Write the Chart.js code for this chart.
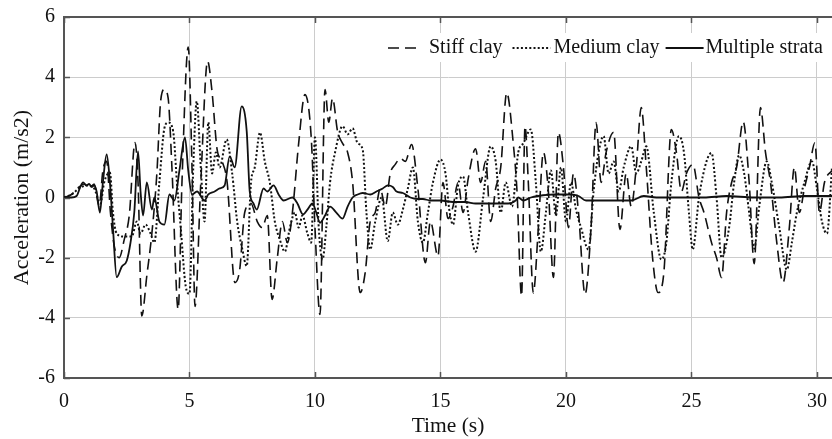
<!DOCTYPE html>
<html>
<head>
<meta charset="utf-8">
<title>Acceleration time history</title>
<script src="https://cdn.jsdelivr.net/npm/chart.js@4.4.1/dist/chart.umd.min.js"></script>
<style>
  html, body { margin: 0; padding: 0; background: #fff; }
  #wrap { width: 832px; height: 439px; }
</style>
</head>
<body>
<div id="wrap"><canvas id="chart"></canvas></div>
<script>
// values (time in s, acceleration in m/s2)
const seriesNames = ['Stiff clay', 'Medium clay', 'Multiple strata'];
const xTicks = [0, 5, 10, 15, 20, 25, 30];
const yTicks = [-6, -4, -2, 0, 2, 4, 6];

const stiffT = [0, 0.3, 0.6, 0.8, 1.0, 1.2, 1.4, 1.55, 1.7, 1.85, 2.0, 2.2, 2.4, 2.6, 2.83, 2.95, 3.1, 3.3, 3.5, 3.7, 3.85, 4.0, 4.15, 4.3, 4.55, 4.7, 4.95, 5.1, 5.22, 5.45, 5.72, 5.9, 6.1, 6.3, 6.5, 6.81, 7.0, 7.2, 7.45, 7.7, 7.9, 8.1, 8.29, 8.5, 8.7, 8.9, 9.1, 9.35, 9.6, 9.85, 10.0, 10.2, 10.4, 10.55, 10.7, 10.9, 11.1, 11.3, 11.5, 11.8, 12.0, 12.2, 12.4, 12.6, 12.8, 13.0, 13.2, 13.4, 13.6, 13.85, 14.1, 14.4, 14.6, 14.9, 15.1, 15.3, 15.5, 15.7, 15.9, 16.1, 16.4, 16.6, 16.8, 17.0, 17.2, 17.4, 17.64, 17.9, 18.05, 18.23, 18.37, 18.5, 18.7, 18.9, 19.1, 19.3, 19.5, 19.7, 19.9, 20.1, 20.3, 20.5, 20.76, 21.0, 21.2, 21.4, 21.6, 21.9, 22.15, 22.4, 22.6, 22.8, 23.0, 23.2, 23.45, 23.67, 23.9, 24.2, 24.4, 24.6, 24.8, 25.06, 25.3, 25.5, 25.8, 26.0, 26.2, 26.4, 26.6, 26.8, 27.06, 27.3, 27.5, 27.75, 27.95, 28.15, 28.4, 28.65, 28.9, 29.1, 29.3, 29.5, 29.7, 29.92, 30.1, 30.3, 30.6];
const stiffA = [0, 0.1, 0.35, 0.45, 0.3, 0.45, -0.3, 0.9, 1.2, -0.5, -1.6, -2.0, -1.4, -0.6, 1.83, 0.5, -3.94, -2.6, -1.2, 0.8, 3.2, 3.59, 3.3, 1.0, -3.72, 0.5, 5.0, 1.0, -3.62, 0.5, 4.53, 3.5, 1.6, 1.2, 0.5, -2.83, -2.4, -0.5, -0.2, -0.8, -1.0, -0.6, -3.39, -2.0, -0.8, -1.5, -0.5, 1.8, 3.42, 2.0, -1.0, -3.89, 3.59, 2.5, 3.3, 2.2, 1.8, 1.5, 0.5, -3.16, -2.5, -0.8, -0.5, 0.3, -0.3, 0.8, 1.1, 1.3, 1.2, 1.76, 0.3, -2.17, -0.8, -1.95, 0.5, -0.7, -0.3, 0.5, -0.5, 0.6, 1.62, 0.5, 1.2, -0.8, 0.3, 1.0, 3.48, 1.8, 0.2, -3.28, 2.37, 0.5, -3.17, -1.0, 1.5, 0.2, -2.66, 2.16, 1.0, -1.0, 0.8, -0.5, -3.22, -1.0, 2.49, 0.5, 1.5, 2.17, -1.06, 0.8, -0.3, 1.0, 2.99, 1.0, -2.0, -3.16, -2.5, 2.26, 1.5, 0.2, 0.8, 1.1, 0.0, -0.5, -1.5, -2.0, -2.66, -0.5, 0.5, 1.0, 2.52, 0.5, -2.2, 2.99, 1.5, 0.5, -1.5, -2.83, -1.0, 1.0, -0.5, 0.3, 1.0, 1.82, -0.5, 0.5, 0.9];

const mediumT = [0, 0.3, 0.6, 0.9, 1.2, 1.45, 1.6, 1.83, 1.95, 2.1, 2.4, 2.7, 2.9, 3.05, 3.25, 3.45, 3.6, 3.8, 4.0, 4.15, 4.35, 4.5, 4.65, 4.85, 5.0, 5.15, 5.29, 5.45, 5.6, 5.75, 5.9, 6.05, 6.2, 6.48, 6.7, 6.9, 7.1, 7.28, 7.45, 7.6, 7.81, 8.0, 8.2, 8.4, 8.6, 8.8, 9.0, 9.2, 9.35, 9.5, 9.7, 9.85, 10.0, 10.15, 10.3, 10.45, 10.6, 10.8, 11.1, 11.3, 11.5, 11.7, 11.9, 12.05, 12.2, 12.4, 12.66, 12.9, 13.1, 13.3, 13.5, 13.7, 13.9, 14.1, 14.3, 14.5, 14.7, 15.0, 15.2, 15.35, 15.5, 15.7, 15.9, 16.1, 16.4, 16.7, 17.0, 17.2, 17.4, 17.6, 17.85, 18.1, 18.3, 18.6, 18.8, 19.0, 19.2, 19.4, 19.6, 19.8, 20.0, 20.2, 20.4, 20.6, 20.9, 21.1, 21.3, 21.5, 21.7, 21.9, 22.1, 22.3, 22.6, 22.8, 23.0, 23.2, 23.5, 23.8, 24.0, 24.2, 24.5, 24.7, 24.9, 25.05, 25.3, 25.6, 25.8, 26.0, 26.2, 26.5, 26.7, 26.9, 27.1, 27.3, 27.5, 27.7, 28.0, 28.2, 28.5, 28.8, 29.0, 29.2, 29.5, 29.8, 30.0, 30.2, 30.4, 30.6];
const mediumA = [0, 0.1, 0.3, 0.4, 0.3, -0.2, 0.5, 0.83, -0.5, -1.2, -1.3, -1.3, -0.8, -1.2, -0.9, -1.2, -1.5, 0.5, 2.3, 2.49, 2.2, 0.5, -1.0, -2.95, -3.2, 1.0, 3.2, 1.0, -0.8, 2.5, 0.8, 1.5, 1.0, 1.93, 0.8, -0.8, -1.7, -2.28, 0.5, 1.0, 2.16, 1.2, 0.5, -0.8, -1.4, -1.8, -1.0, -0.5, -1.0, -0.6, -1.2, -1.5, 2.0, -1.0, -2.06, -1.0, 0.5, 1.5, 2.37, 2.1, 2.3, 1.8, 1.6, -0.5, -1.73, -0.8, 0.0, -1.45, -0.5, -0.9, -0.4, 0.3, 1.0, -0.8, -1.5, -0.5, 0.5, 1.26, 0.8, -0.4, -0.9, 0.4, 0.7, -0.5, -1.8, 0.0, 1.7, 1.2, -0.5, 0.5, -0.3, 1.5, 1.8, 2.26, 0.5, -1.8, -0.5, 0.9, -0.6, 1.0, -0.8, 0.5, -0.4, -1.0, -1.73, 0.2, 1.5, 2.04, 0.8, 1.2, 0.2, 1.0, 1.7, 0.8, 1.2, 1.7, -0.5, -2.06, -1.5, 0.5, 2.04, 1.5, -0.5, -1.73, 0.0, 1.2, 1.48, 0.0, -2.0, -1.0, 0.5, 1.4, 0.8, -0.5, -1.7, -0.3, 1.2, 0.5, -1.0, -2.4, -1.5, -0.5, 0.5, 1.2, 0.3, -0.8, -1.2, 1.0];

const strataT = [0, 0.3, 0.5, 0.65, 0.76, 0.9, 1.0, 1.1, 1.2, 1.3, 1.43, 1.55, 1.7, 1.82, 1.95, 2.1, 2.3, 2.5, 2.65, 2.8, 2.95, 3.05, 3.15, 3.3, 3.5, 3.6, 3.8, 4.0, 4.2, 4.4, 4.6, 4.82, 4.95, 5.1, 5.3, 5.6, 5.75, 6.0, 6.2, 6.4, 6.6, 6.8, 7.08, 7.28, 7.4, 7.55, 7.68, 7.95, 8.1, 8.35, 8.55, 8.75, 9.1, 9.3, 9.52, 9.7, 9.9, 10.05, 10.2, 10.4, 10.6, 10.85, 11.1, 11.3, 11.5, 11.7, 11.9, 12.2, 12.45, 12.7, 12.9, 13.1, 13.25, 13.5, 13.8, 14.1, 14.3, 14.6, 15.0, 15.5, 16.0, 16.4, 16.9, 17.4, 17.7, 18.0, 18.1, 18.3, 18.6, 18.9, 19.5, 20.2, 20.5, 20.8, 21.5, 22.0, 22.6, 23.1, 23.6, 24.5, 25.5, 26.4, 27.5, 28.5, 29.5, 30.6];
const strataA = [0, 0, 0.05, 0.35, 0.5, 0.4, 0.45, 0.35, 0.4, 0.2, -0.5, 0.5, 1.43, 0.6, -1.0, -2.65, -2.3, -2.1, -1.5, -0.5, 1.53, 0.2, -0.6, 0.5, -0.4, 0.0, -0.8, -0.9, 0.1, -0.1, 0.9, 2.0, 0.9, 0.1, 0.2, -0.1, 0.1, 0.2, 0.3, 0.4, 1.37, 1.0, 3.03, 2.2, 0.2, -0.2, -0.4, 0.3, 0.2, 0.4, 0.1, -0.1, 0.0, -0.2, -0.56, -0.4, -0.2, -0.5, -0.84, -0.6, -0.3, -0.5, -0.7, -0.3, 0.0, 0.1, 0.15, 0.1, 0.2, 0.3, 0.4, 0.35, 0.2, 0.15, 0.0, -0.05, -0.05, -0.1, -0.1, -0.15, -0.15, -0.2, -0.2, -0.2, -0.2, -0.1, 0.0, -0.1, 0.0, 0.05, 0.1, 0.1, 0.05, -0.1, -0.1, -0.1, -0.1, 0.05, 0.0, 0.0, 0.0, 0.05, 0.0, 0.0, 0.05, 0.05];

const FONT = '"Liberation Serif", "Times New Roman", serif';
const INK = '#111';
const FRAME = '#555';

function pts(ts, vs){
  return ts.map((t, i) => ({x: t, y: vs[i]}));
}

const dashes = [[11, 6], [2, 2.2], []];
const widths = [1.6, 2, 1.8];

// legend in the plot (white box) + inner ticks + top frame line
const overlay = {
  id: 'overlay',
  afterDatasetsDraw(chart){
    const {ctx, chartArea: a, scales} = chart;
    ctx.save();
    // inner tick marks
    ctx.strokeStyle = FRAME;
    ctx.lineWidth = 1.5;
    ctx.setLineDash([]);
    xTicks.forEach(v => {
      const px = Math.round(scales.x.getPixelForValue(v)) + 0.5;
      ctx.beginPath();
      ctx.moveTo(px, a.bottom); ctx.lineTo(px, a.bottom - 6);
      ctx.moveTo(px, a.top); ctx.lineTo(px, a.top + 6);
      ctx.stroke();
    });
    yTicks.forEach(v => {
      const py = Math.round(scales.y.getPixelForValue(v)) + 0.5;
      ctx.beginPath();
      ctx.moveTo(a.left, py); ctx.lineTo(a.left + 6, py);
      ctx.stroke();
    });
    // top frame
    ctx.lineWidth = 2;
    ctx.beginPath();
    ctx.moveTo(a.left, a.top); ctx.lineTo(a.right, a.top);
    ctx.stroke();

    // legend
    ctx.fillStyle = '#fff';
    ctx.fillRect(a.left + 316, a.top + 16, a.right - a.left - 316, 29);
    ctx.font = '20px ' + FONT;
    ctx.textBaseline = 'middle';
    const ly = a.top + 31;
    const sampleLen = [30, 38, 38];
    const gapBefore = [11, 3, 2];
    const gapAfter = [10, 6, 0];
    let lx = a.left + 324;
    seriesNames.forEach((name, i) => {
      ctx.strokeStyle = INK;
      ctx.lineWidth = widths[i];
      ctx.setLineDash(dashes[i]);
      ctx.beginPath();
      ctx.moveTo(lx, ly); ctx.lineTo(lx + sampleLen[i], ly);
      ctx.stroke();
      lx += sampleLen[i] + gapBefore[i];
      ctx.fillStyle = INK;
      ctx.fillText(name, lx, ly);
      lx += ctx.measureText(name).width + gapAfter[i];
    });
    ctx.restore();
  }
};

new Chart(document.getElementById('chart'), {
  type: 'line',
  data: {
    datasets: [
      {label: seriesNames[0], data: pts(stiffT, stiffA)},
      {label: seriesNames[1], data: pts(mediumT, mediumA)},
      {label: seriesNames[2], data: pts(strataT, strataA)}
    ].map((d, i) => Object.assign(d, {
      borderColor: INK,
      borderWidth: widths[i],
      borderDash: dashes[i],
      pointRadius: 0,
      fill: false,
      cubicInterpolationMode: 'monotone'
    }))
  },
  options: {
    responsive: true,
    maintainAspectRatio: false,
    animation: false,
    layout: {padding: {top: 17, right: 0, left: 0, bottom: 0}},
    plugins: {legend: {display: false}, tooltip: {enabled: false}},
    scales: {
      x: {
        type: 'linear',
        min: 0, max: 30.6,
        afterBuildTicks: s => { s.ticks = xTicks.map(v => ({value: v})); },
        afterFit: s => { s.height = 61; s.paddingLeft = 0; s.paddingRight = 0; },
        grid: {color: '#cccccc', drawTicks: false},
        border: {display: true, color: FRAME, width: 2},
        ticks: {color: INK, padding: 12, font: {family: FONT, size: 20}, maxRotation: 0},
        title: {display: true, text: 'Time (s)', color: INK, font: {family: FONT, size: 21.5}, padding: {top: 0, bottom: 0}}
      },
      y: {
        min: -6, max: 6,
        afterBuildTicks: s => { s.ticks = yTicks.map(v => ({value: v})); },
        afterFit: s => { s.width = 64; s.paddingTop = 0; s.paddingBottom = 0; },
        grid: {color: '#cccccc', drawTicks: false},
        border: {display: true, color: FRAME, width: 2},
        ticks: {color: INK, padding: 9, font: {family: FONT, size: 20}},
        title: {display: true, text: 'Acceleration (m/s2)', color: INK, font: {family: FONT, size: 22}, padding: {top: 9, bottom: 0}}
      }
    }
  },
  plugins: [overlay]
});
</script>
</body>
</html>
